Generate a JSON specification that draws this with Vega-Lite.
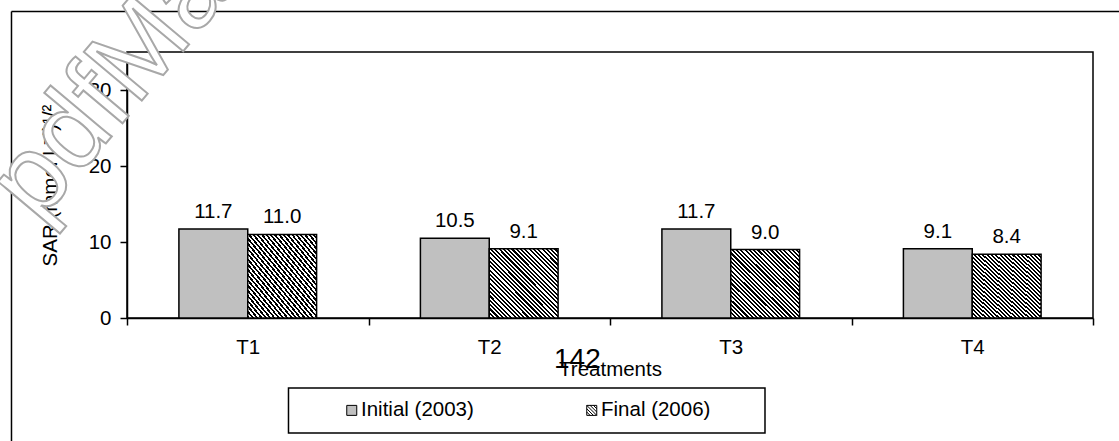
{
  "$schema": "https://vega.github.io/schema/vega-lite/v6.json",
  "width": 966,
  "height": 266,
  "autosize": {"type": "none"},
  "padding": {"left": 127, "top": 52, "right": 26, "bottom": 123},
  "background": "white",
  "config": {
    "font": "Liberation Sans",
    "view": {"stroke": "black", "strokeWidth": 1.5},
    "axis": {
      "domainColor": "black",
      "domainWidth": 1.5,
      "tickColor": "black",
      "tickWidth": 1.5,
      "tickSize": 7,
      "labelColor": "black",
      "labelFontSize": 20.5,
      "labelOverlap": false,
      "titleColor": "black",
      "titleFontSize": 20.5,
      "titleFontWeight": "normal",
      "grid": false
    },
    "legend": {
      "title": null,
      "orient": "none",
      "legendX": 162,
      "legendY": 336,
      "direction": "horizontal",
      "padding": 12,
      "columnPadding": 67,
      "symbolSize": 100,
      "symbolOpacity": 1,
      "symbolStrokeColor": "black",
      "symbolStrokeWidth": 1,
      "symbolOffset": 40.5,
      "labelOffset": -1,
      "labelFontSize": 20.5,
      "labelColor": "black",
      "labelLimit": 400
    }
  },
  "data": {
    "values": [
      {"treatment": "T1", "series": "Initial (2003)", "value": 11.7},
      {"treatment": "T1", "series": "Final (2006)", "value": 11.0},
      {"treatment": "T2", "series": "Initial (2003)", "value": 10.5},
      {"treatment": "T2", "series": "Final (2006)", "value": 9.1},
      {"treatment": "T3", "series": "Initial (2003)", "value": 11.7},
      {"treatment": "T3", "series": "Final (2006)", "value": 9.0},
      {"treatment": "T4", "series": "Initial (2003)", "value": 9.1},
      {"treatment": "T4", "series": "Final (2006)", "value": 8.4}
    ]
  },
  "layer": [
    {
      "layer": [
        {
          "mark": {"type": "bar", "stroke": "black", "strokeWidth": 1.5},
          "encoding": {
            "x": {
              "field": "treatment",
              "type": "nominal",
              "scale": {"paddingInner": 0, "paddingOuter": 0},
              "axis": {"title": "Treatments", "labelAngle": 0, "tickBand": "extent", "labelPadding": 12, "titlePadding": 2}
            },
            "xOffset": {
              "field": "series",
              "type": "nominal",
              "scale": {"domain": ["Initial (2003)", "Final (2006)"], "paddingInner": 0, "paddingOuter": 0.754}
            },
            "y": {
              "field": "value",
              "type": "quantitative",
              "scale": {"domain": [0, 35], "nice": false},
              "axis": {"title": "SAR (mmol L⁻¹)¹/²", "values": [0, 5, 10, 15, 20, 25, 30, 35], "labelOverlap": false, "labelSeparation": -40, "labelPadding": 9, "titlePadding": 28}
            },
            "fill": {
              "field": "series",
              "type": "nominal",
              "scale": {"domain": ["Initial (2003)", "Final (2006)"], "range": ["#c0c0c0", "#ffffff"]},
              "legend": null,
              "condition": {
                "test": "datum.series === 'Final (2006)'",
                "value": {"gradient": "linear", "x1": 0, "y1": 1, "x2": 1, "y2": 0, "stops": [
                  {"offset": 0, "color": "#000"}, {"offset": 0.015625, "color": "#000"}, {"offset": 0.015625, "color": "#fff"}, {"offset": 0.03125, "color": "#fff"},
                  {"offset": 0.03125, "color": "#000"}, {"offset": 0.046875, "color": "#000"}, {"offset": 0.046875, "color": "#fff"}, {"offset": 0.0625, "color": "#fff"},
                  {"offset": 0.0625, "color": "#000"}, {"offset": 0.078125, "color": "#000"}, {"offset": 0.078125, "color": "#fff"}, {"offset": 0.09375, "color": "#fff"},
                  {"offset": 0.09375, "color": "#000"}, {"offset": 0.109375, "color": "#000"}, {"offset": 0.109375, "color": "#fff"}, {"offset": 0.125, "color": "#fff"},
                  {"offset": 0.125, "color": "#000"}, {"offset": 0.140625, "color": "#000"}, {"offset": 0.140625, "color": "#fff"}, {"offset": 0.15625, "color": "#fff"},
                  {"offset": 0.15625, "color": "#000"}, {"offset": 0.171875, "color": "#000"}, {"offset": 0.171875, "color": "#fff"}, {"offset": 0.1875, "color": "#fff"},
                  {"offset": 0.1875, "color": "#000"}, {"offset": 0.203125, "color": "#000"}, {"offset": 0.203125, "color": "#fff"}, {"offset": 0.21875, "color": "#fff"},
                  {"offset": 0.21875, "color": "#000"}, {"offset": 0.234375, "color": "#000"}, {"offset": 0.234375, "color": "#fff"}, {"offset": 0.25, "color": "#fff"},
                  {"offset": 0.25, "color": "#000"}, {"offset": 0.265625, "color": "#000"}, {"offset": 0.265625, "color": "#fff"}, {"offset": 0.28125, "color": "#fff"},
                  {"offset": 0.28125, "color": "#000"}, {"offset": 0.296875, "color": "#000"}, {"offset": 0.296875, "color": "#fff"}, {"offset": 0.3125, "color": "#fff"},
                  {"offset": 0.3125, "color": "#000"}, {"offset": 0.328125, "color": "#000"}, {"offset": 0.328125, "color": "#fff"}, {"offset": 0.34375, "color": "#fff"},
                  {"offset": 0.34375, "color": "#000"}, {"offset": 0.359375, "color": "#000"}, {"offset": 0.359375, "color": "#fff"}, {"offset": 0.375, "color": "#fff"},
                  {"offset": 0.375, "color": "#000"}, {"offset": 0.390625, "color": "#000"}, {"offset": 0.390625, "color": "#fff"}, {"offset": 0.40625, "color": "#fff"},
                  {"offset": 0.40625, "color": "#000"}, {"offset": 0.421875, "color": "#000"}, {"offset": 0.421875, "color": "#fff"}, {"offset": 0.4375, "color": "#fff"},
                  {"offset": 0.4375, "color": "#000"}, {"offset": 0.453125, "color": "#000"}, {"offset": 0.453125, "color": "#fff"}, {"offset": 0.46875, "color": "#fff"},
                  {"offset": 0.46875, "color": "#000"}, {"offset": 0.484375, "color": "#000"}, {"offset": 0.484375, "color": "#fff"}, {"offset": 0.5, "color": "#fff"},
                  {"offset": 0.5, "color": "#000"}, {"offset": 0.515625, "color": "#000"}, {"offset": 0.515625, "color": "#fff"}, {"offset": 0.53125, "color": "#fff"},
                  {"offset": 0.53125, "color": "#000"}, {"offset": 0.546875, "color": "#000"}, {"offset": 0.546875, "color": "#fff"}, {"offset": 0.5625, "color": "#fff"},
                  {"offset": 0.5625, "color": "#000"}, {"offset": 0.578125, "color": "#000"}, {"offset": 0.578125, "color": "#fff"}, {"offset": 0.59375, "color": "#fff"},
                  {"offset": 0.59375, "color": "#000"}, {"offset": 0.609375, "color": "#000"}, {"offset": 0.609375, "color": "#fff"}, {"offset": 0.625, "color": "#fff"},
                  {"offset": 0.625, "color": "#000"}, {"offset": 0.640625, "color": "#000"}, {"offset": 0.640625, "color": "#fff"}, {"offset": 0.65625, "color": "#fff"},
                  {"offset": 0.65625, "color": "#000"}, {"offset": 0.671875, "color": "#000"}, {"offset": 0.671875, "color": "#fff"}, {"offset": 0.6875, "color": "#fff"},
                  {"offset": 0.6875, "color": "#000"}, {"offset": 0.703125, "color": "#000"}, {"offset": 0.703125, "color": "#fff"}, {"offset": 0.71875, "color": "#fff"},
                  {"offset": 0.71875, "color": "#000"}, {"offset": 0.734375, "color": "#000"}, {"offset": 0.734375, "color": "#fff"}, {"offset": 0.75, "color": "#fff"},
                  {"offset": 0.75, "color": "#000"}, {"offset": 0.765625, "color": "#000"}, {"offset": 0.765625, "color": "#fff"}, {"offset": 0.78125, "color": "#fff"},
                  {"offset": 0.78125, "color": "#000"}, {"offset": 0.796875, "color": "#000"}, {"offset": 0.796875, "color": "#fff"}, {"offset": 0.8125, "color": "#fff"},
                  {"offset": 0.8125, "color": "#000"}, {"offset": 0.828125, "color": "#000"}, {"offset": 0.828125, "color": "#fff"}, {"offset": 0.84375, "color": "#fff"},
                  {"offset": 0.84375, "color": "#000"}, {"offset": 0.859375, "color": "#000"}, {"offset": 0.859375, "color": "#fff"}, {"offset": 0.875, "color": "#fff"},
                  {"offset": 0.875, "color": "#000"}, {"offset": 0.890625, "color": "#000"}, {"offset": 0.890625, "color": "#fff"}, {"offset": 0.90625, "color": "#fff"},
                  {"offset": 0.90625, "color": "#000"}, {"offset": 0.921875, "color": "#000"}, {"offset": 0.921875, "color": "#fff"}, {"offset": 0.9375, "color": "#fff"},
                  {"offset": 0.9375, "color": "#000"}, {"offset": 0.953125, "color": "#000"}, {"offset": 0.953125, "color": "#fff"}, {"offset": 0.96875, "color": "#fff"},
                  {"offset": 0.96875, "color": "#000"}, {"offset": 0.984375, "color": "#000"}, {"offset": 0.984375, "color": "#fff"}, {"offset": 1, "color": "#fff"}
                ]}
              }
            }
          }
        },
        {
          "mark": {"type": "point", "filled": true, "opacity": 0, "size": 0, "strokeWidth": 1},
          "encoding": {
            "x": {"field": "treatment", "type": "nominal", "scale": {"paddingInner": 0, "paddingOuter": 0}},
            "y": {"field": "value", "type": "quantitative", "scale": {"domain": [0, 35], "nice": false}},
            "fill": {
              "field": "series",
              "type": "nominal",
              "scale": {"domain": ["Initial (2003)", "Final (2006)"], "range": ["#c0c0c0", "#ffffff"]},
              "legend": {}
            },
            "stroke": {
              "field": "series",
              "type": "nominal",
              "scale": {"domain": ["Initial (2003)", "Final (2006)"], "range": ["#000000", "#000000"]},
              "legend": {}
            },
            "shape": {
              "field": "series",
              "type": "nominal",
              "scale": {"domain": ["Initial (2003)", "Final (2006)"], "range": ["M-1,-1H1V1H-1Z", "M-1,-1H1V1H-1ZM-1,-1L1,1M-1,-0.33L0.33,1M-0.33,-1L1,0.33M-1,0.33L-0.33,1M0.33,-1L1,-0.33"]},
              "legend": {}
            }
          }
        },
        {
          "mark": {"type": "text", "baseline": "alphabetic", "dy": -11, "fontSize": 20.5, "color": "black"},
          "encoding": {
            "x": {"field": "treatment", "type": "nominal", "scale": {"paddingInner": 0, "paddingOuter": 0}},
            "xOffset": {
              "field": "series",
              "type": "nominal",
              "scale": {"domain": ["Initial (2003)", "Final (2006)"], "paddingInner": 0, "paddingOuter": 0.754}
            },
            "y": {"field": "value", "type": "quantitative", "scale": {"domain": [0, 35], "nice": false}},
            "text": {"field": "value", "type": "quantitative", "format": ".1f"}
          }
        }
      ],
      "resolve": {"scale": {"fill": "independent", "shape": "independent", "stroke": "independent"}}
    },
    {
      "data": {"values": [{}]},
      "layer": [
        {
          "mark": {"type": "rule", "color": "black", "strokeWidth": 1.5},
          "encoding": {
            "x": {"datum": -0.4783, "type": "quantitative", "scale": {"domain": [0, 4], "nice": false, "zero": false}, "axis": null},
            "x2": {"datum": 4.2},
            "y": {"datum": 40.33, "type": "quantitative", "scale": {"domain": [0, 35], "nice": false}, "axis": null}
          }
        },
        {
          "mark": {"type": "rule", "color": "black", "strokeWidth": 1.5},
          "encoding": {
            "x": {"datum": -0.4783, "type": "quantitative", "scale": {"domain": [0, 4], "nice": false, "zero": false}, "axis": null},
            "y": {"datum": 40.33, "type": "quantitative", "scale": {"domain": [0, 35], "nice": false}, "axis": null},
            "y2": {"datum": -20}
          }
        },
        {
          "mark": {"type": "rect", "fillOpacity": 0, "stroke": "black", "strokeWidth": 1.5},
          "encoding": {
            "x": {"datum": 0.6687, "type": "quantitative", "scale": {"domain": [0, 4], "nice": false, "zero": false}, "axis": null},
            "x2": {"datum": 2.6418},
            "y": {"datum": -9.21, "type": "quantitative", "scale": {"domain": [0, 35], "nice": false}, "axis": null},
            "y2": {"datum": -15.13}
          }
        },
        {
          "mark": {"type": "text", "text": "142", "fontSize": 28, "align": "center", "baseline": "alphabetic", "color": "black"},
          "encoding": {
            "x": {"datum": 1.865, "type": "quantitative", "scale": {"domain": [0, 4], "nice": false, "zero": false}, "axis": null},
            "y": {"datum": -6.58, "type": "quantitative", "scale": {"domain": [0, 35], "nice": false}, "axis": null}
          }
        },
        {
          "mark": {"type": "text", "text": "pdfMachine", "fontSize": 110, "align": "left", "baseline": "alphabetic", "angle": -50, "fill": "white", "stroke": "#a8a8a8", "strokeWidth": 2},
          "encoding": {
            "x": {"datum": -0.37, "type": "quantitative", "scale": {"domain": [0, 4], "nice": false, "zero": false}, "axis": null},
            "y": {"datum": 12.3, "type": "quantitative", "scale": {"domain": [0, 35], "nice": false}, "axis": null}
          }
        }
      ]
    }
  ],
  "resolve": {"scale": {"x": "independent", "y": "independent"}}
}
